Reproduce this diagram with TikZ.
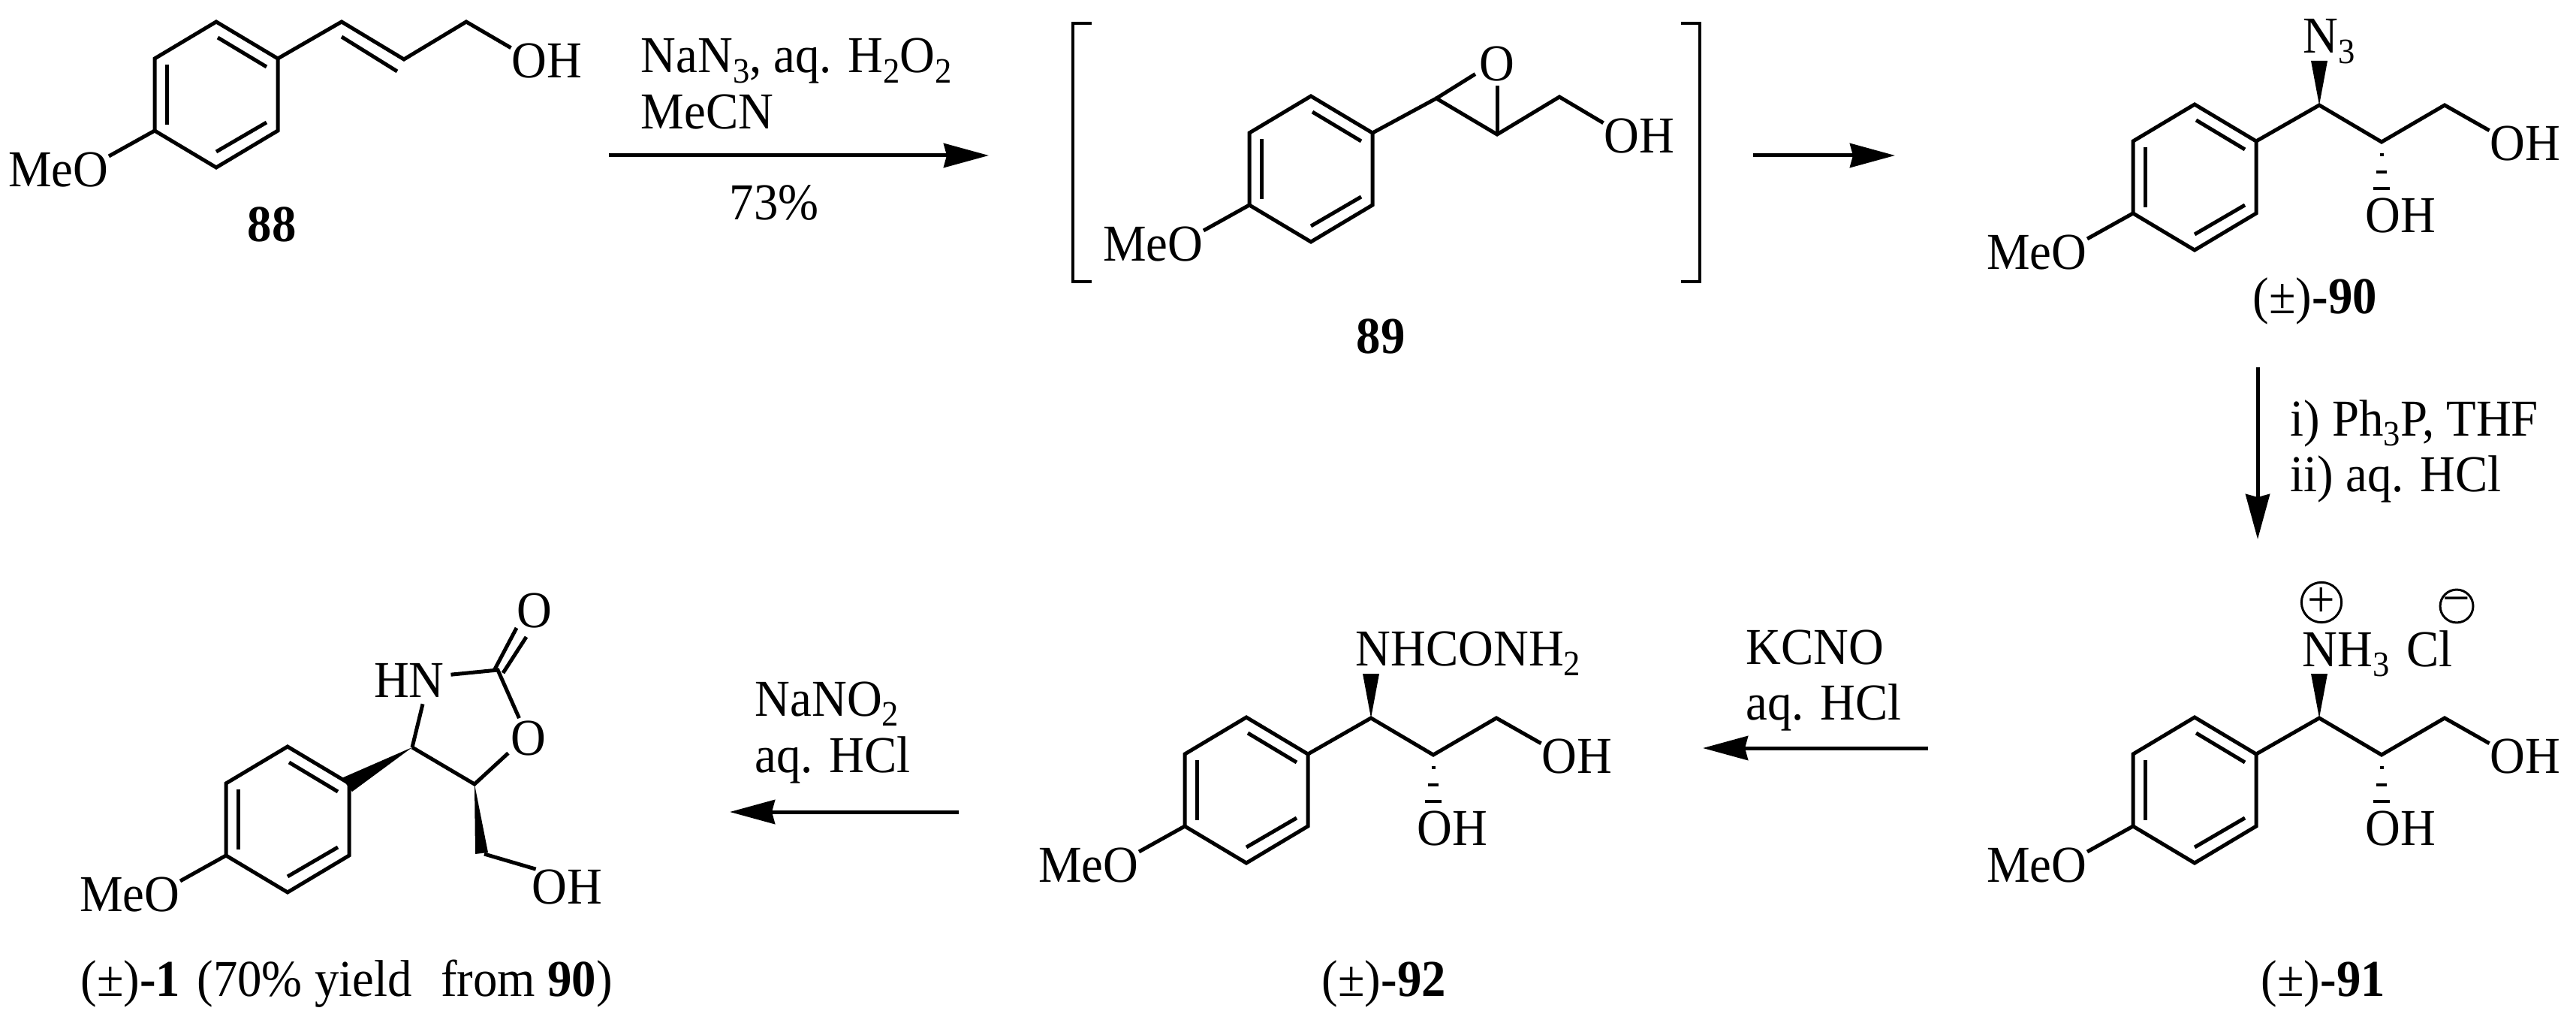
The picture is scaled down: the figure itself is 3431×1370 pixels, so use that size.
\documentclass[tikz,border=0pt]{standalone}
\usepackage{fontspec}
\setmainfont[FakeStretch=0.94]{Liberation Serif}
\usetikzlibrary{arrows.meta}
\newcommand{\chemfont}{\fontsize{19.6pt}{24pt}\selectfont}
\newcommand{\chemsub}[1]{\raisebox{-3.7pt}{\fontsize{13.5pt}{14pt}\selectfont #1}}
\tikzset{
	bond/.style={line width=0.05cm},
	bracketline/.style={line width=0.04cm},
	rxnarrow/.style={line width=0.05cm,-{Stealth[length=0.6cm,width=0.32cm,inset=0.04cm]}},
	charge/.style={circle,draw,line width=0.03cm,minimum size=0.43cm},
	anisyl/.pic={
		\coordinate (-top) at (0,-97);
		\coordinate (-rt) at (82,-48);
		\coordinate (-rb) at (82,48);
		\coordinate (-bot) at (0,97);
		\coordinate (-lb) at (-82,48);
		\coordinate (-lt) at (-82,-48);
		\draw[bond] (-top)--(-rt)--(-rb)--(-bot)--(-lb)--(-lt)--cycle;
		\draw[bond] (2,-76)--(67,-37);
		\draw[bond] (-66,-40)--(-66,40);
		\draw[bond] (67,37)--(0,76);
		\node (-meo) at (-143,100) [anchor=east] {MeO};
		\draw[bond] (-lb)--(-meo.15);
	},
	hashbond/.pic={
		\foreach \dy/\dw in {17/5,40/14,62/22}
			\draw[bracketline] (-\dw/2,\dy)--(\dw/2,\dy);
	},
	aminodiol/.pic={
		\pic (-ar) at (0,0) {anisyl};
		\coordinate (-c1) at (166,-96);
		\coordinate (-c2) at (249,-47);
		\coordinate (-c3) at (333,-96);
		\node (-oh) at (440,-45) {OH};
		\node (-ohb) at (274,51) {OH};
		\draw[bond] (-ar-rt)--(-c1)--(-c2)--(-c3)--(-oh.160);
		\fill (-c1)--++(-11,-59)--++(22,0)--cycle;
		\pic at (-c2) {hashbond};
	},
}
\begin{document}
\begin{tikzpicture}[x=0.01cm,y=-0.01cm,every node/.style={inner sep=0,font=\chemfont}]
	\useasboundingbox (0,0) rectangle (3431,1370);

	\pic (r88) at (288,126) {anisyl};
	\coordinate (c88a) at (455,29);
	\coordinate (c88b) at (538,79);
	\coordinate (c88c) at (621,29);
	\node (oh88) at (728,81) {OH};
	\draw[bond] (r88-rt)--(c88a)--(c88b)--(c88c)--(oh88.160);
	\draw[bond] (455,49)--(529,95);
	\node (n88) at (362,299) {\textbf{88}};

	\node (reagent1a) at (853,97) [anchor=base west] {NaN\chemsub{3}, aq. H\chemsub{2}O\chemsub{2}};
	\node (reagent1b) at (853,172) [anchor=base west] {MeCN};
	\node (yield1) at (1031,270) {73\%};
	\coordinate (arrow1a) at (811,207);
	\coordinate (arrow1b) at (1317,207);
	\draw[rxnarrow] (arrow1a)--(arrow1b);

	\draw[bracketline] (1454,31)--(1429,31)--(1429,375)--(1454,375);
	\draw[bracketline] (2239,31)--(2264,31)--(2264,375)--(2239,375);
	\pic (r89) at (1746,225) {anisyl};
	\coordinate (c89a) at (1913,131);
	\coordinate (c89b) at (1994,179);
	\coordinate (c89c) at (2077,129);
	\node (oh89) at (2183,181) {OH};
	\node (o89) at (1994,85) [inner sep=0.05cm] {O};
	\draw[bond] (r89-rt)--(c89a)--(c89b)--(c89c)--(oh89.160);
	\draw[bond] (c89a)--(o89.205);
	\draw[bond] (c89b)--(o89.south);
	\node (n89) at (1839,448) {\textbf{89}};

	\coordinate (arrow2a) at (2335,207);
	\coordinate (arrow2b) at (2524,207);
	\draw[rxnarrow] (arrow2a)--(arrow2b);

	\pic (r90) at (2923,236) {aminodiol};
	\node (n3) at (3067,71) [anchor=base west] {N\chemsub{3}};
	\node (n90) at (3000,417) [anchor=base west] {(±)\textbf{-90}};

	\coordinate (arrow3a) at (3007,489);
	\coordinate (arrow3b) at (3007,718);
	\draw[rxnarrow] (arrow3a)--(arrow3b);
	\node (reagent3a) at (3050,580) [anchor=base west] {i) Ph\chemsub{3}P, THF};
	\node (reagent3b) at (3050,654) [anchor=base west] {ii) aq. HCl};

	\pic (r91) at (2923,1052) {aminodiol};
	\node (nh3) at (3066,887) [anchor=base west] {NH\chemsub{3}};
	\node (cl) at (3205,887) [anchor=base west] {Cl};
	\node (plus) at (3092,802) [charge] {+};
	\node (minus) at (3272,807) [charge] {−};
	\node (n91) at (3011,1326) [anchor=base west] {(±)\textbf{-91}};

	\coordinate (arrow4a) at (2568,996);
	\coordinate (arrow4b) at (2268,996);
	\draw[rxnarrow] (arrow4a)--(arrow4b);
	\node (reagent4a) at (2325,884) [anchor=base west] {KCNO};
	\node (reagent4b) at (2325,958) [anchor=base west] {aq. HCl};

	\pic (r92) at (1660,1052) {aminodiol};
	\node (urea) at (1805,886) [anchor=base west] {NHCONH\chemsub{2}};
	\node (n92) at (1760,1326) [anchor=base west] {(±)\textbf{-92}};

	\coordinate (arrow5a) at (1277,1081);
	\coordinate (arrow5b) at (972,1081);
	\draw[rxnarrow] (arrow5a)--(arrow5b);
	\node (reagent5a) at (1005,953) [anchor=base west] {NaNO\chemsub{2}};
	\node (reagent5b) at (1005,1028) [anchor=base west] {aq. HCl};

	\pic (r1) at (383,1091) {anisyl};
	\coordinate (c4) at (549,995);
	\coordinate (c5) at (632,1044);
	\coordinate (c2) at (663,892);
	\coordinate (ch2) at (645,1137);
	\node (hn) at (545,906) [inner sep=0.08cm] {HN};
	\node (o1) at (704,983) [inner sep=0.03cm] {O};
	\node (o1top) at (712,813) {O};
	\node (oh1) at (755,1181) {OH};
	\fill (c4)--(469,1054)--(455,1036)--cycle;
	\draw[bond] (c4)--(c5)--(o1.216);
	\draw[bond] (c4)--(hn.300);
	\draw[bond] (hn.8)--(c2)--(o1.115);
	\coordinate (co1a) at (659,891);
	\coordinate (co1b) at (688,836);
	\coordinate (co2a) at (670,896);
	\coordinate (co2b) at (701,848);
	\draw[bond] (co1a)--(co1b);
	\draw[bond] (co2a)--(co2b);
	\fill (c5)--(633,1137)--(650,1135)--cycle;
	\draw[bond] (ch2)--(oh1.150);
	\node (n1) at (107,1326) [anchor=base west] {(±)\textbf{-1}\kern0.06cm\ (70\% yield\ \ \kern0.06cm from \textbf{90})};
\end{tikzpicture}
\end{document}
